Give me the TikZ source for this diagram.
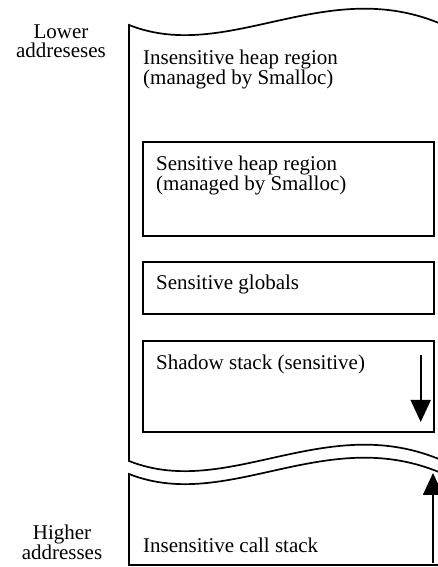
\documentclass[tikz,border=0pt]{standalone}
\usepackage{fontspec}
\setmainfont{Liberation Serif}
\usetikzlibrary{arrows.meta}

\tikzset{
	memline/.style={line width=1.7pt},
	regionbox/.style={draw, line width=1.7pt, inner sep=0pt},
	regiontext/.style={anchor=base west, align=left, inner sep=0pt},
	addrtext/.style={anchor=base, align=center, inner sep=0pt},
	growarrow/.style={line width=1.7pt, -{Triangle[length=22pt, width=20pt]}}
}
%one wave of the broken memory column, #1 is the height of its left end
\newcommand{\memwave}[1]{(129,#1) .. controls (230,#1-40) and (330,#1+55) .. (450,#1-3)}

\begin{document}
\begin{tikzpicture}[x=1pt, y=1pt, font=\fontsize{21}{19}\selectfont]
		\useasboundingbox (0,0) rectangle (437,567);

		%upper part of the address space, cut by waves at top and bottom
		\draw[memline] (450,539) .. controls (330,597) and (230,502) .. (129,542) -- (129,106) .. controls (230,66) and (330,161) .. (450,103);
		%lower part, holding the call stack
		\draw[memline] (450,2) -- (129,2) -- \memwave{93};

		%sensitive regions inside the upper part
		\node[regionbox, minimum width=291pt, minimum height=94pt, anchor=south west] (sheap) at (142,330) {};
		\node[regionbox, minimum width=291pt, minimum height=52pt, anchor=south west] (sglobals) at (142,252) {};
		\node[regionbox, minimum width=291pt, minimum height=91pt, anchor=south west] (shadow) at (142,134) {};

		%texts of the regions (base = baseline of the last line)
		\node[regiontext] (iheaptext) at (143,482) {Insensitive heap region\\(managed by Smalloc)};
		\node[regiontext] (sheaptext) at (156,376) {Sensitive heap region\\(managed by Smalloc)};
		\node[regiontext] (sglobalstext) at (156,277) {Sensitive globals};
		\node[regiontext] (shadowtext) at (156,197) {Shadow stack (sensitive)};
		\node[regiontext] (callstacktext) at (143,14) {Insensitive call stack};

		%direction in which the stacks grow
		\coordinate (shadowtop) at (420.7,212);
		\coordinate (shadowtip) at (420.7,145);
		\draw[growarrow] (shadowtop) -- (shadowtip);
		\coordinate (callbottom) at (433,4);
		\coordinate (calltip) at (433,94);
		\draw[growarrow] (callbottom) -- (calltip);

		%address labels on the left
		\node[addrtext] (lowaddr) at (61,509) {Lower\\addreseses};
		\node[addrtext] (highaddr) at (62,7) {Higher\\addresses};
	\end{tikzpicture}
\end{document}
